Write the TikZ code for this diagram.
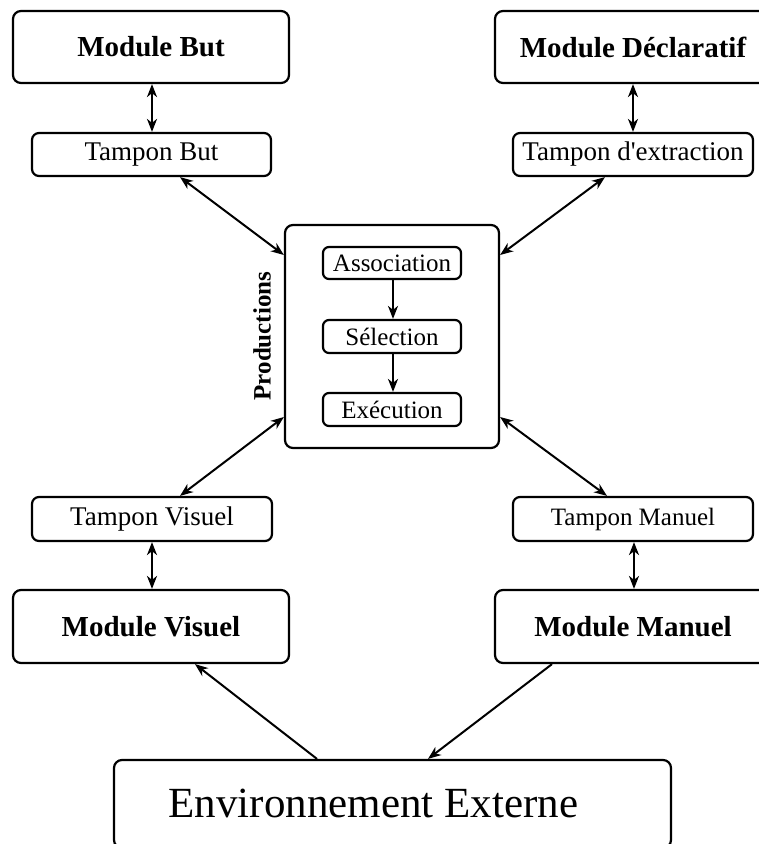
\documentclass[tikz,border=0pt]{standalone}
\usepackage{fontspec}
\setmainfont{Liberation Serif}[Ligatures=TeXOff]
\usetikzlibrary{arrows.meta}
\tikzset{
  bigbox/.style={draw, line width=2.2pt, rounded corners=8pt, inner sep=0pt, align=center,
    font=\fontsize{29}{32}\selectfont\bfseries},
  bufbox/.style={draw, line width=2.2pt, rounded corners=7pt, inner sep=0pt, align=center,
    font=\fontsize{27}{30}\selectfont},
  inbox/.style={draw, line width=2.2pt, rounded corners=6pt, inner sep=0pt, minimum width=138pt, minimum height=32pt,
    font=\fontsize{25}{28}\selectfont},
  conn/.style={line width=2pt, -{Stealth[length=13pt,width=10pt,inset=4pt]}},
  biconn/.style={line width=2pt, {Stealth[length=13pt,width=10pt,inset=4pt]}-{Stealth[length=13pt,width=10pt,inset=4pt]}},
}
\begin{document}
\begin{tikzpicture}[x=1pt,y=-1pt]
\useasboundingbox (0,0) rectangle (759,844);
\clip (0,0) rectangle (759,844);
% top modules
\node[bigbox, minimum width=276pt, minimum height=72pt] (mb) at (151,47) {Module But};
\node[bufbox, minimum width=239pt, minimum height=43pt] (tb) at (151.5,154.5) {Tampon But};
\node[bigbox, minimum width=276pt, minimum height=72pt] (md) at (633,47) {Module Déclaratif};
\node[bufbox, minimum width=240pt, minimum height=43pt] (te) at (633,154.5) {Tampon d'extraction};
% productions
\node[draw, line width=2.2pt, rounded corners=8pt, minimum width=214pt, minimum height=223pt, inner sep=0pt] (prod) at (392,336.5) {};
\node[rotate=90, font=\fontsize{25}{28}\selectfont\bfseries] (prodlbl) at (262,336) {Productions};
\node[inbox] (as) at (392,263) {Association};
\node[inbox, minimum height=33pt] (se) at (392,336.5) {Sélection};
\node[inbox, minimum height=33pt] (ex) at (392,409.5) {Exécution};
% bottom modules
\node[bufbox, minimum width=240pt, minimum height=44pt] (tv) at (152,519) {Tampon Visuel};
\node[bigbox, minimum width=276pt, minimum height=73pt] (mv) at (151,626.5) {Module Visuel};
\node[bufbox, minimum width=240pt, minimum height=44pt, font=\fontsize{25}{28}\selectfont] (tm) at (633,519) {Tampon Manuel};
\node[bigbox, minimum width=276pt, minimum height=73pt] (mm) at (633,626.5) {Module Manuel};
% environment
\node[draw, line width=2.2pt, rounded corners=8pt, minimum width=557pt, minimum height=88pt, inner sep=0pt] (env) at (392.5,804) {};
\node[font=\fontsize{43}{46}\selectfont, inner sep=0pt] (envlbl) at (373.5,803.5) {Environnement Externe};
% connectors
\draw[biconn] (mb.south -| 152,0) -- (tb.north -| 152,0);
\draw[biconn] (md.south -| 633,0) -- (te.north -| 633,0);
\draw[biconn] (tv.south -| 152,0) -- (mv.north -| 152,0);
\draw[biconn] (tm.south -| 634,0) -- (mm.north -| 634,0);
\draw[biconn] (tb.south -| 180,0) -- (prod.west |- 0,255);
\draw[biconn] (te.south -| 605,0) -- (prod.east |- 0,255);
\draw[biconn] (tv.north -| 180,0) -- (prod.west |- 0,417);
\draw[biconn] (tm.north -| 607,0) -- (prod.east |- 0,417);
\draw[conn] (as.south -| 393,0) -- (se.north -| 393,0);
\draw[conn] (se.south -| 393,0) -- (ex.north -| 393,0);
\draw[conn] (env.north -| 317,0) -- (mv.south -| 195,0);
\draw[conn] (mm.south -| 552,0) -- (env.north -| 428,0);
\end{tikzpicture}
\end{document}
